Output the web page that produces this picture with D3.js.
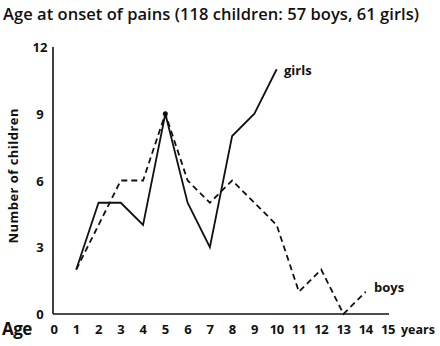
<!DOCTYPE html>
<html>
<head>
<meta charset="utf-8">
<script src="https://cdn.jsdelivr.net/npm/d3@7"></script>
<style>
  body { margin: 0; background: #fff; }
  text { font-family: "Open Sans", Lato, sans-serif; fill: #111; }
</style>
</head>
<body>
<svg class="chart" width="440" height="346"></svg>
<script>
const ages = [1, 2, 3, 4, 5, 6, 7, 8, 9, 10, 11, 12, 13, 14];
const girls = [2, 5, 5, 4, 9, 5, 3, 8, 9, 11];
const boys = [2, 4, 6, 6, 9, 6, 5, 6, 5, 4, 1, 2, 0, 1];
const xTicks = d3.range(0, 16);
const yTicks = [0, 3, 6, 9, 12];

const svg = d3.select('.chart');

const x = d3.scaleLinear().domain([0, 15]).range([54, 388]);
const y = d3.scaleLinear().domain([0, 12]).range([314, 47]);

// title
svg.append('text')
    .attr('x', 3)
    .attr('y', 20)
    .attr('font-size', 16.5)
    .attr('font-weight', 600)
    .attr('textLength', 416)
    .text('Age at onset of pains (118 children: 57 boys, 61 girls)');

// axes lines
svg.append('line')
    .attr('x1', x(0) - 1).attr('x2', x(0) - 1)
    .attr('y1', y(12)).attr('y2', y(0))
    .attr('stroke', '#111').attr('stroke-width', 1.6);
svg.append('line')
    .attr('x1', x(0) - 1).attr('x2', x(15) + 1)
    .attr('y1', y(0)).attr('y2', y(0))
    .attr('stroke', '#111').attr('stroke-width', 1.6);

// y tick labels
svg.selectAll('.ytick')
    .data(yTicks)
    .enter().append('text')
    .attr('x', 40)
    .attr('y', d => y(d) + 5)
    .attr('text-anchor', 'middle')
    .attr('font-size', 13)
    .attr('font-weight', 700)
    .text(d => d);

// x tick labels
svg.selectAll('.xtick')
    .data(xTicks)
    .enter().append('text')
    .attr('x', d => x(d))
    .attr('y', 334)
    .attr('text-anchor', 'middle')
    .attr('font-size', 13)
    .attr('font-weight', 700)
    .attr('letter-spacing', -0.5)
    .text(d => d);

svg.append('text')
    .attr('x', 2).attr('y', 335)
    .attr('font-size', 17).attr('font-weight', 700)
    .attr('letter-spacing', -0.5)
    .text('Age');
svg.append('text')
    .attr('x', 401).attr('y', 334)
    .attr('font-size', 12.5).attr('font-weight', 700)
    .text('years');

svg.append('text')
    .attr('transform', 'translate(18,176) rotate(-90)')
    .attr('text-anchor', 'middle')
    .attr('font-size', 13)
    .attr('font-weight', 700)
    .attr('textLength', 135)
    .text('Number of children');

const line = d3.line()
    .x((d, i) => x(ages[i]))
    .y(d => y(d));

svg.append('path')
    .attr('d', line(boys))
    .attr('fill', 'none')
    .attr('stroke', '#111')
    .attr('stroke-width', 1.8)
    .attr('stroke-dasharray', '6,4');

svg.append('path')
    .attr('d', line(girls))
    .attr('fill', 'none')
    .attr('stroke', '#111')
    .attr('stroke-width', 1.8);

svg.append('circle')
    .attr('cx', x(5)).attr('cy', y(9)).attr('r', 2.5)
    .attr('fill', '#111');

svg.append('text')
    .attr('x', 284).attr('y', 75)
    .attr('font-size', 13).attr('font-weight', 700)
    .text('girls');
svg.append('text')
    .attr('x', 374).attr('y', 292)
    .attr('font-size', 13).attr('font-weight', 700)
    .text('boys');
</script>
</body>
</html>
